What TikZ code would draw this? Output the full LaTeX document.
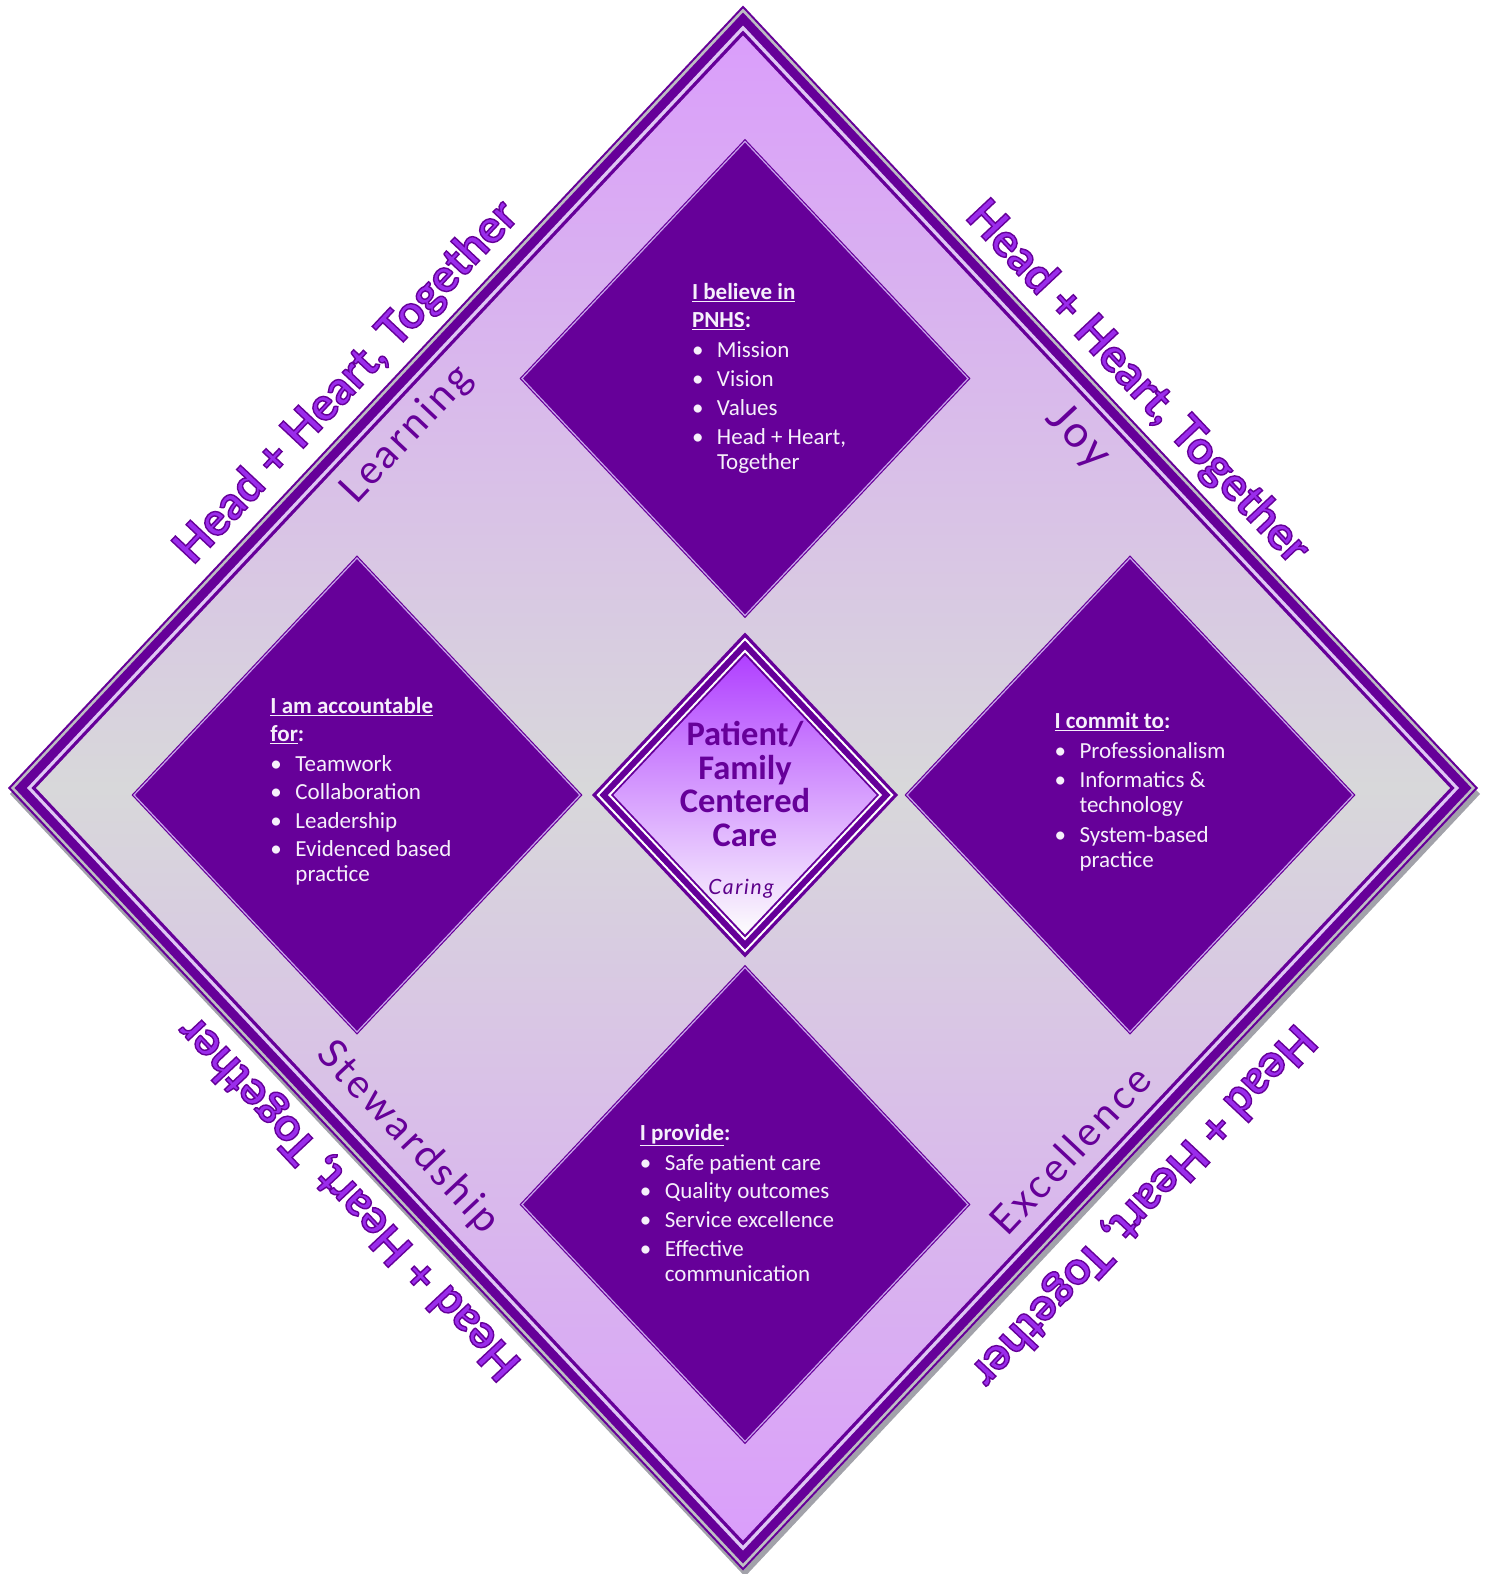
\documentclass[tikz,border=0pt]{standalone}
\usepackage{fontspec}
\setmainfont{Carlito}
\newfontfamily\capfont{Lato}
\newfontfamily\wordfont[LetterSpace=8]{Lato}
\usetikzlibrary{shapes.geometric,positioning}
\definecolor{pdeep}{HTML}{660099}
\definecolor{pmid}{HTML}{9A2CEB}
\definecolor{plite}{HTML}{C9A2EC}
\definecolor{plav}{HTML}{DA9EFB}
\definecolor{pgrey}{HTML}{D8D8DA}
\definecolor{pshadow}{HTML}{A2A2AA}
\definecolor{pcore}{HTML}{B040FF}
\definecolor{ptext}{HTML}{F6F0FB}
\newcommand\hd[1]{\textbf{\underline{#1}}}
\newcommand\bul{\makebox[25pt][l]{\textbullet}}
\newcommand\ind{\hspace*{25pt}}
\newcommand\outl[1]{\special{pdf:literal direct 2 Tr 1.4 w 0.4 0 0.6 RG}#1\special{pdf:literal direct 0 Tr}}
\begin{document}
\begin{tikzpicture}[x=1pt, y=-1pt,
    layer/.style={diamond, inner sep=0pt, outer sep=0pt},
    leaf/.style={diamond, inner sep=0pt, outer sep=0pt, fill=pdeep, draw=pdeep, line width=1.2pt, double=plite, double distance=1.2pt, minimum width=446pt, minimum height=474pt},
    pts/.style={text=ptext, align=left, font=\fontsize{23}{25}\selectfont},
    hht/.style={font=\capfont\bfseries\fontsize{46}{50}\selectfont, text=pmid},
    word/.style={font=\wordfont\fontsize{40}{40}\selectfont, text=pdeep}]
\useasboundingbox (0,0) rectangle (1491,1574);

% outer frame
\node[layer, fill=pshadow, minimum width=1470pt, minimum height=1565pt] (shadow) at (745,794) {};
\node[layer, fill=pdeep, minimum width=1470pt, minimum height=1565pt] (frame) at (743,788) {};
\node[layer, fill=pshadow!70!white, minimum width=1464pt, minimum height=1559pt] (frame-2) at (frame.center) {};
\node[layer, fill=pdeep, minimum width=1457pt, minimum height=1551pt] (frame-3) at (frame.center) {};
\node[layer, fill=plite!60!white, minimum width=1432pt, minimum height=1525pt] (frame-4) at (frame.center) {};
\node[layer, fill=pdeep, minimum width=1423pt, minimum height=1515pt] (frame-5) at (frame.center) {};
\node[layer, top color=plav, bottom color=plav, middle color=pgrey, minimum width=1414pt, minimum height=1505pt] (field) at (frame.center) {};

% centre
\node[layer, fill=pdeep, minimum width=306pt, minimum height=325pt] (core) at (745,795) {};
\node[layer, fill=white, minimum width=297pt, minimum height=315pt] (core-2) at (core.center) {};
\node[layer, fill=pdeep, minimum width=291pt, minimum height=309pt] (core-3) at (core.center) {};
\node[layer, fill=white, minimum width=274pt, minimum height=291pt] (core-4) at (core.center) {};
\node[layer, fill=pdeep, minimum width=268pt, minimum height=285pt] (core-5) at (core.center) {};
\node[layer, top color=pcore, bottom color=white!95!pgrey, minimum width=263pt, minimum height=279pt] (core-6) at (core.center) {};
\node[text=pdeep, align=center, font=\bfseries\fontsize{34.5}{33.5}\selectfont] (core-txt) at ([yshift=11pt]core.center) {Patient/\\Family\\Centered\\Care};
\node[text=pdeep!90!black, font=\wordfont\itshape\fontsize{21}{21}\selectfont] (caring) at (741,889) {Caring};

% four diamonds
\node[leaf] (believe) [above=17pt of core] {};
\node[leaf] (account) [left=12pt of core] {};
\node[leaf] (commit) [right=9pt of core] {};
\node[leaf] (provide) [below=10pt of core] {};

\node[pts] (believe-txt) at ([xshift=24pt]believe.center) {\hd{I believe in}\\[3pt]\hd{PNHS}\textbf{:}\\[5pt]\bul Mission\\[4pt]\bul Vision\\[4pt]\bul Values\\[4pt]\bul Head + Heart,\\\ind Together};
\node[pts] (account-txt) at ([xshift=4pt,yshift=4pt]account.center) {\hd{I am accountable}\\[3pt]\hd{for}\textbf{:}\\[5pt]\bul Teamwork\\[3pt]\bul Collaboration\\[4pt]\bul Leadership\\[3pt]\bul Evidenced based\\\ind practice};
\node[pts] (commit-txt) at ([xshift=10pt,yshift=3pt]commit.center) {\hd{I commit to}\textbf{:}\\[5pt]\bul Professionalism\\[4pt]\bul Informatics \&\\\ind technology\\[5pt]\bul System-based\\\ind practice};
\node[pts] (provide-txt) at ([xshift=-8pt,yshift=2pt]provide.center) {\hd{I provide}\textbf{:}\\[5pt]\bul Safe patient care\\[3pt]\bul Quality outcomes\\[4pt]\bul Service excellence\\[4pt]\bul Effective\\\ind communication};

% values
\node[word, rotate=46.8] (learning) at (407,435) {Learning};
\node[word, rotate=-46.8, font=\wordfont\fontsize{44}{44}\selectfont] (joy) at (1078,437) {Joy};
\node[word, rotate=-46.8] (stewardship) at (408,1138) {Stewardship};
\node[word, rotate=46.8] (excellence) at (1070,1150) {Excellence};

% motto on each side
\node[hht, rotate=46.8] (motto-nw) at (347,383) {\outl{Head + Heart, Together}};
\node[hht, rotate=-46.8] (motto-ne) at (1137,383) {\outl{Head + Heart, Together}};
\node[hht, rotate=133.2] (motto-sw) at (350,1197) {\outl{Head + Heart, Together}};
\node[hht, rotate=226.8] (motto-se) at (1142,1205) {\outl{Head + Heart, Together}};
\end{tikzpicture}
\end{document}
